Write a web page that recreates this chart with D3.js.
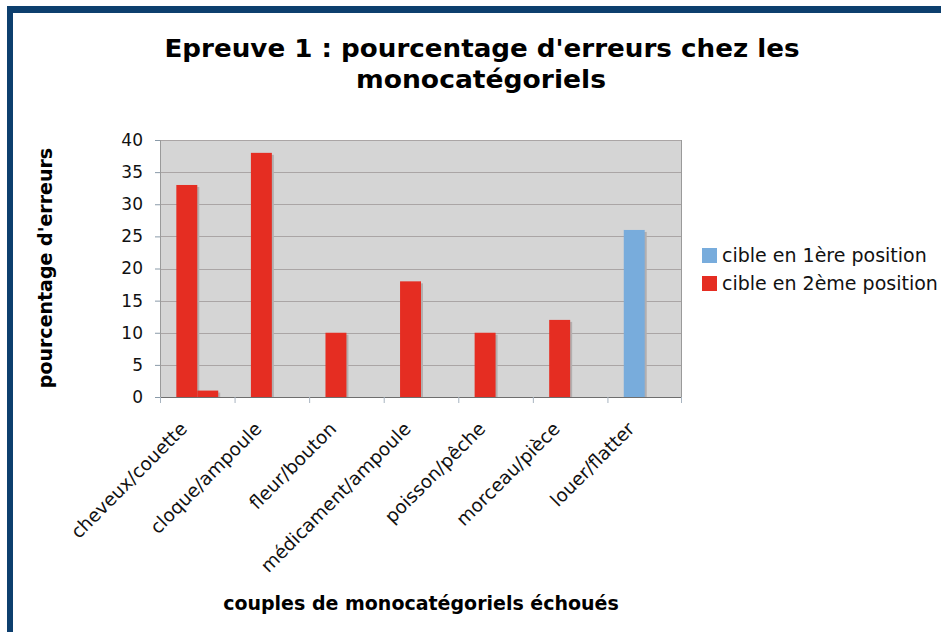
<!DOCTYPE html>
<html>
<head>
<meta charset="utf-8">
<script src="https://cdn.jsdelivr.net/npm/d3@7"></script>
<style>
  body { margin: 0; background: #fff; }
  text { font-family: "DejaVu Sans", Verdana, sans-serif; }
</style>
</head>
<body>
<div id="chart"></div>
<script>
// Data
var categories = ["cheveux/couette", "cloque/ampoule", "fleur/bouton", "médicament/ampoule",
                  "poisson/pêche", "morceau/pièce", "louer/flatter"];
var seriesNames = ["cible en 1ère position", "cible en 2ème position"];
// first series (its points recoloured by position of the target)
var serie1 = [33, 38, 10, 18, 10, 12, 26];
var serie2 = [1, 0, 0, 0, 0, 0, 0];
// position of the target for each couple (1 = first, 2 = second)
var ciblePosition = [2, 2, 2, 2, 2, 2, 1];
var yTicks = [0, 5, 10, 15, 20, 25, 30, 35, 40];

var W = 941, H = 632;
var margin = {top: 140, left: 160, right: 259, bottom: 235};
var width = W - margin.left - margin.right,
    height = H - margin.top - margin.bottom;

var color = d3.scaleOrdinal().domain([1, 2]).range(["#78acdc", "#e52d22"]);

var svg = d3.select("#chart").append("svg")
    .attr("width", W)
    .attr("height", H);

// frame
svg.append("rect").attr("x", 7).attr("y", 6).attr("width", W - 7).attr("height", 7).attr("fill", "#0d3f6e");
svg.append("rect").attr("x", 7).attr("y", 6).attr("width", 6).attr("height", H - 6).attr("fill", "#0d3f6e");

// title
svg.append("text")
    .attr("x", 482).attr("y", 57)
    .attr("text-anchor", "middle")
    .attr("textLength", 635).attr("lengthAdjust", "spacingAndGlyphs")
    .style("font-size", "24px").style("font-weight", "bold")
    .text("Epreuve 1 : pourcentage d'erreurs chez les");
svg.append("text")
    .attr("x", 481).attr("y", 88)
    .attr("text-anchor", "middle")
    .attr("textLength", 250).attr("lengthAdjust", "spacingAndGlyphs")
    .style("font-size", "24px").style("font-weight", "bold")
    .text("monocatégoriels");

var g = svg.append("g")
    .attr("transform", "translate(" + margin.left + "," + margin.top + ")");

var x = d3.scaleBand().domain(categories).range([0, width]);
var x1 = d3.scaleBand().domain([0, 1]).range([0, x.bandwidth()]).paddingOuter(0.78);
var y = d3.scaleLinear().domain([0, 40]).range([height, 0]);

// plot background
g.append("rect")
    .attr("width", width).attr("height", height)
    .attr("fill", "#d5d5d5");

// grid
g.selectAll(".grid").data(yTicks.slice(1)).enter().append("line")
    .attr("class", "grid")
    .attr("x1", 0).attr("x2", width)
    .attr("y1", function(d) { return Math.round(y(d)) + 0.5; })
    .attr("y2", function(d) { return Math.round(y(d)) + 0.5; })
    .attr("stroke", "#aaa5a5").attr("stroke-width", 1);

// side borders
g.append("line").attr("x1", 0.5).attr("x2", 0.5).attr("y1", 0).attr("y2", height)
    .attr("stroke", "#9a9a9a");
g.append("line").attr("x1", width - 0.5).attr("x2", width - 0.5).attr("y1", 0).attr("y2", height)
    .attr("stroke", "#9a9a9a");

// bars
var bars = [];
categories.forEach(function(c, i) {
    bars.push({cat: c, slot: 0, value: serie1[i], pos: ciblePosition[i]});
    bars.push({cat: c, slot: 1, value: serie2[i], pos: 2});
});
bars = bars.filter(function(d) { return d.value > 0; });

var barG = g.selectAll(".bar").data(bars).enter().append("g").attr("class", "bar");
// soft shadow
barG.append("rect")
    .attr("x", function(d) { return x(d.cat) + x1(d.slot) + 2; })
    .attr("y", function(d) { return y(d.value) + 2; })
    .attr("width", x1.bandwidth())
    .attr("height", function(d) { return height - y(d.value) - 2; })
    .attr("fill", "#b3afaf");
barG.append("rect")
    .attr("x", function(d) { return x(d.cat) + x1(d.slot); })
    .attr("y", function(d) { return y(d.value); })
    .attr("width", x1.bandwidth())
    .attr("height", function(d) { return height - y(d.value); })
    .attr("fill", function(d) { return color(d.pos); });

// y axis
var yAxis = g.append("g")
    .call(d3.axisLeft(y).tickValues(yTicks).tickSize(5).tickPadding(12));
yAxis.select(".domain").remove();
yAxis.selectAll(".tick line").attr("stroke", "#8a9aa8");
yAxis.selectAll("text")
    .style("font-size", "17px").attr("fill", "#111")
    .attr("font-family", "DejaVu Sans, Verdana, sans-serif");

// x axis
var xAxis = g.append("g")
    .attr("transform", "translate(0," + height + ")")
    .call(d3.axisBottom(x).tickSize(6).tickFormat(""));
xAxis.select(".domain").attr("stroke", "#6e6e6e").attr("d", "M0,0.5H" + width);
xAxis.selectAll(".tick").attr("transform", function(d) { return "translate(" + x(d) + ",0)"; });
xAxis.selectAll(".tick line").attr("stroke", "#a8b4c0").attr("x1", 0.5).attr("x2", 0.5);
xAxis.append("g").attr("transform", "translate(" + (width - 0.5) + ",0)")
    .append("line").attr("y2", 6).attr("stroke", "#a8b4c0");

g.selectAll(".xlabel").data(categories).enter().append("text")
    .attr("class", "xlabel")
    .attr("transform", function(d) {
        return "translate(" + (x(d) + x.bandwidth() / 2 - 9) + "," + (height + 33) + ") rotate(-45)";
    })
    .attr("text-anchor", "end")
    .style("font-size", "18.5px")
    .attr("fill", "#111")
    .text(function(d) { return d; });

// axis titles
svg.append("text")
    .attr("transform", "translate(52," + 268 + ") rotate(-90)")
    .attr("text-anchor", "middle")
    .style("font-size", "19px").style("font-weight", "bold")
    .text("pourcentage d'erreurs");
svg.append("text")
    .attr("x", 421).attr("y", 610)
    .attr("text-anchor", "middle")
    .style("font-size", "19px").style("font-weight", "bold")
    .text("couples de monocatégoriels échoués");

// legend
var legend = svg.selectAll(".legend").data(seriesNames).enter().append("g")
    .attr("class", "legend")
    .attr("transform", function(d, i) { return "translate(702," + (248 + i * 28) + ")"; });
legend.append("rect")
    .attr("width", 15).attr("height", 15)
    .attr("fill", function(d, i) { return color(i + 1); });
legend.append("text")
    .attr("x", 20).attr("y", 7.5).attr("dy", "0.36em")
    .style("font-size", "19px").attr("fill", "#111")
    .text(function(d) { return d; });
</script>
</body>
</html>
